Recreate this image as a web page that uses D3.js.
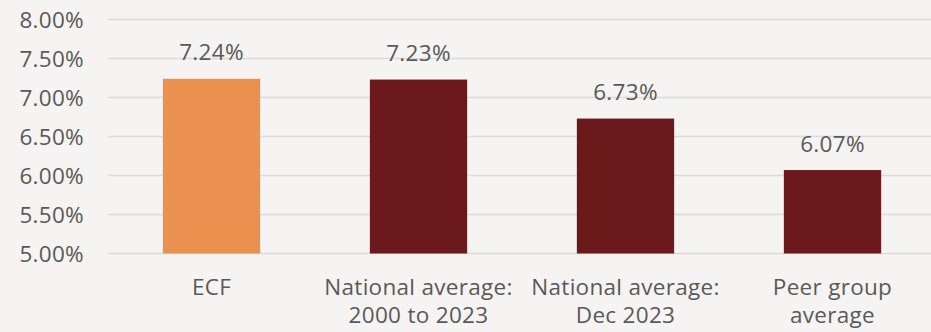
<!DOCTYPE html>
<html>
<head>
<meta charset="utf-8">
<script src="https://cdn.jsdelivr.net/npm/d3@7"></script>
<style>
    html, body { margin: 0; padding: 0; background: #f5f4f2; }
    svg { display: block; }
    text { font-family: "Open Sans", sans-serif; fill: #595959; letter-spacing: 0.3px; }
</style>
</head>
<body>
<div id="chart"></div>
<script>
const categories = ["ECF", "National average:\n2000 to 2023", "National average:\nDec 2023", "Peer group\naverage"]
const returns = [7.24, 7.23, 6.73, 6.07]
const barColors = ["#ea914f", "#6b191b", "#6b191b", "#6b191b"]
const yTicks = [5.0, 5.5, 6.0, 6.5, 7.0, 7.5, 8.0]

const width = 931,
    height = 332,
    margin = {top: 19.5, right: -5, bottom: 78.5, left: 108},
    fontSize = "22.5px"

let svg = d3.select("#chart")
    .append("svg")
    .attr("width", width)
    .attr("height", height)

let x = d3.scaleBand()
    .domain(categories)
    .range([margin.left, width - margin.right])
    .paddingInner(0.53)
    .paddingOuter(0.265)

let y = d3.scaleLinear()
    .domain([5, 8])
    .range([height - margin.bottom, margin.top])

// grid lines
svg.append("g")
    .selectAll("line")
    .data(yTicks)
    .join("line")
    .attr("x1", margin.left)
    .attr("x2", width)
    .attr("y1", d => y(d))
    .attr("y2", d => y(d))
    .attr("stroke", "#dcdbd9")
    .attr("stroke-width", 1.5)

// y labels
svg.append("g")
    .selectAll("text")
    .data(yTicks)
    .join("text")
    .attr("x", 84)
    .attr("y", d => y(d))
    .attr("dy", "0.36em")
    .attr("text-anchor", "end")
    .style("font-size", fontSize)
    .text(d => d.toFixed(2) + "%")

// bars
svg.append("g")
    .selectAll("rect")
    .data(returns)
    .join("rect")
    .attr("x", (d, i) => x(categories[i]))
    .attr("width", x.bandwidth())
    .attr("y", d => y(d))
    .attr("height", d => y(5) - y(d))
    .attr("fill", (d, i) => barColors[i])

// value labels
svg.append("g")
    .selectAll("text")
    .data(returns)
    .join("text")
    .attr("x", (d, i) => x(categories[i]) + x.bandwidth() / 2)
    .attr("y", d => y(d) - 18.5)
    .attr("text-anchor", "middle")
    .style("font-size", fontSize)
    .text(d => d.toFixed(2) + "%")

// category labels
svg.append("g")
    .selectAll("text")
    .data(categories)
    .join("text")
    .attr("x", d => x(d) + x.bandwidth() / 2)
    .attr("y", 295)
    .attr("text-anchor", "middle")
    .style("font-size", fontSize)
    .each(function(d) {
        d.split("\n").forEach((line, i) => {
            d3.select(this).append("tspan")
                .attr("x", x(d) + x.bandwidth() / 2)
                .attr("dy", i === 0 ? 0 : 28)
                .text(line)
        })
    })
</script>
</body>
</html>
